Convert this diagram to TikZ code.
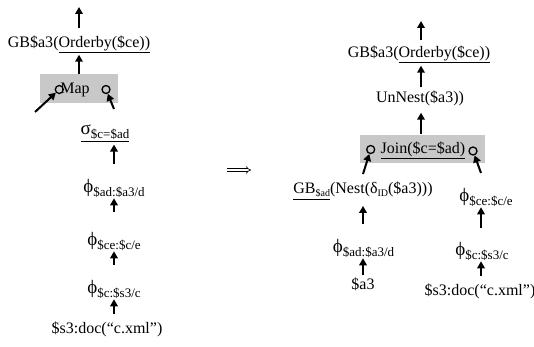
\documentclass[tikz,border=0pt]{standalone}
\usepackage{fontspec}
\setmainfont{Liberation Serif}
\usetikzlibrary{arrows.meta}
\definecolor{grisbox}{RGB}{200,200,200}

\begin{document}
\begin{tikzpicture}[x=1pt, y=-1pt, anchor=center]

		\useasboundingbox (0,0) rectangle (534,347);

		\tikzset{
			up/.style={line width=2pt, -{Triangle[length=7pt,width=7.5pt]}},
			lbl/.style={inner sep=0pt, font=\fontsize{16}{18}\selectfont},
			boite/.style={fill=grisbox, inner sep=0pt},
			port/.style={circle, draw, line width=1.3pt, inner sep=0pt, minimum size=8pt},
			impl/.style={double, double distance=2pt, line width=0.6pt, -{Implies}}
		}

		\newcommand{\gr}[1]{{\fontsize{19}{19}\selectfont #1}}
		\newcommand{\sub}[1]{\raisebox{-4pt}{\fontsize{13}{14}\selectfont #1}}
		\newcommand{\ssub}[1]{\raisebox{-3pt}{\fontsize{10}{11}\selectfont #1}}

		%plan de gauche
		\coordinate (ltop) at (79,7);
		\node[lbl] (gbl) at (79,44) {GB\$a3(\underline{Orderby(\$ce))}};
		\node[boite, minimum width=78pt, minimum height=29pt] (mapbox) at (79,88.5) {};
		\node[lbl] (map) at (75,90) {Map};
		\node[port] (lport) at (59.3,89.5) {};
		\node[port] (rport) at (106,89.5) {};
		\coordinate (lin) at (35,112);
		\coordinate (rin) at (114,109);

		\node[lbl] (sigma) at (105,133) {\underline{\gr{σ}\sub{\$c=\$ad}}};
		\node[lbl] (phi1) at (114,188) {\gr{ϕ}\sub{\$ad:\$a3/d}};
		\node[lbl] (phi2) at (114,241) {\gr{ϕ}\sub{\$ce:\$c/e}};
		\node[lbl] (phi3) at (114,289) {\gr{ϕ}\sub{\$c:\$s3/c}};
		\node[lbl] (docl) at (107,329) {\$s3:doc(“c.xml”)};

		\draw[up, shorten <=7pt] (gbl.north -| ltop) -- (ltop);
		\draw[up, shorten >=2pt] (mapbox.north -| ltop) -- (gbl.south -| ltop);
		\draw[up] (lin) -- (lport);
		\draw[up] (rin) -- (rport);
		\draw[up, shorten <=15pt, shorten >=3pt] (phi1.north) -- (phi1.north |- sigma.south);
		\draw[up, shorten <=20pt, shorten >=1pt] (phi2.north) -- (phi1.south);
		\draw[up, shorten <=15pt, shorten >=1pt] (phi3.north) -- (phi2.south);
		\draw[up, shorten <=7pt, shorten >=1pt] (docl.north -| phi3) -- (phi3.south);

		%transformation
		\coordinate (tfrom) at (227,170);
		\coordinate (tto) at (251,170);
		\draw[impl] (tfrom) -- (tto);

		%plan de droite
		\coordinate (rtop) at (421,21);
		\node[lbl] (gbr) at (419,54) {GB\$a3(\underline{Orderby(\$ce))}};
		\node[lbl] (unnest) at (420,98) {UnNest(\$a3))};
		\node[boite, minimum width=125pt, minimum height=28pt] (joinbox) at (422.5,149) {};
		\node[lbl] (join) at (423,150) {\underline{Join(\$c=\$ad)}};
		\node[port] (lport2) at (370.7,149.5) {};
		\node[port] (rport2) at (473,151) {};
		\coordinate (lin2) at (363,174);
		\coordinate (rin2) at (481,173);

		\node[lbl] (gbad) at (363,191) {\underline{GB\ssub{\$ad}}(Nest(δ\ssub{ID}(\$a3)))};
		\node[lbl] (phiad) at (363.5,248) {\gr{ϕ}\sub{\$ad:\$a3/d}};
		\node[lbl] (a3) at (363,284) {\$a3};
		\node[lbl] (phice) at (486,197) {\gr{ϕ}\sub{\$ce:\$c/e}};
		\node[lbl] (phic) at (482,251) {\gr{ϕ}\sub{\$c:\$s3/c}};
		\node[lbl] (docr) at (480,291) {\$s3:doc(“c.xml”)};

		\draw[up, shorten <=5pt] (gbr.north -| rtop) -- (rtop);
		\draw[up, shorten <=3pt, shorten >=3pt] (unnest.north -| rtop) -- (gbr.south -| rtop);
		\draw[up, shorten <=1pt, shorten >=7pt] (joinbox.north -| rtop) -- (unnest.south -| rtop);
		\draw[up] (lin2) -- (lport2);
		\draw[up] (rin2) -- (rport2);
		\draw[up, shorten <=15pt, shorten >=6pt] (phiad.north -| gbad) -- (gbad.south);
		\draw[up, shorten <=2pt, shorten >=1pt] (a3.north) -- (a3.north |- phiad.south);
		\draw[up, shorten <=14pt, shorten >=1pt] (rin2 |- phic.north) -- (rin2 |- phice.south);
		\draw[up, shorten <=7pt, shorten >=1pt] (docr.north -| rin2) -- (rin2 |- phic.south);

\end{tikzpicture}
\end{document}
